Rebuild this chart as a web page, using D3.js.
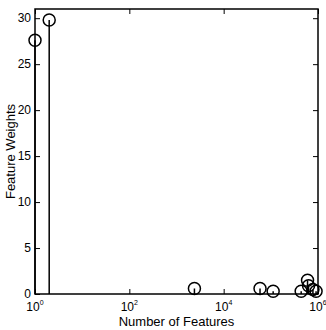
<!DOCTYPE html>
<html><head><meta charset="utf-8">
<script src="https://cdn.jsdelivr.net/npm/d3@7"></script>
<style>body{margin:0;background:#fff}svg{display:block}text{font-family:"Liberation Sans",Arial,sans-serif}</style>
</head><body>
<script>
const features = [1, 2, 2400, 59000, 112000, 440000, 600000, 630000, 780000, 910000];
const weights  = [27.6, 29.8, 0.6, 0.6, 0.3, 0.3, 1.5, 0.9, 0.5, 0.3];
const xTickExps = [0, 2, 4, 6];
const yTicks = [0, 5, 10, 15, 20, 25, 30];

const W = 326, H = 330;
const m = {l: 35, r: 8, t: 9, b: 36};
const svg = d3.select("body").append("svg").attr("width", W).attr("height", H);
const x = d3.scaleLog().domain([1, 1e6]).range([m.l, W - m.r]);
const y = d3.scaleLinear().domain([0, 31]).range([H - m.b, m.t]);

const g = svg.append("g");
g.selectAll("line.stem").data(features).join("line")
  .attr("x1", d => x(d)).attr("x2", d => x(d))
  .attr("y1", y(0)).attr("y2", (d, i) => y(weights[i]))
  .attr("stroke", "#000").attr("stroke-width", 1.5);
g.append("rect").attr("x", m.l).attr("y", m.t)
  .attr("width", W - m.r - m.l).attr("height", H - m.b - m.t)
  .attr("fill", "none").attr("stroke", "#000").attr("stroke-width", 1.5);
g.selectAll("circle").data(features).join("circle")
  .attr("cx", d => x(d)).attr("cy", (d, i) => y(weights[i])).attr("r", 6)
  .attr("fill", "none").attr("stroke", "#000").attr("stroke-width", 1.5);

const yAx = svg.append("g").attr("transform", `translate(${m.l},0)`)
  .call(d3.axisRight(y).tickValues(yTicks).tickSize(5).tickFormat(""));
yAx.select(".domain").remove();
const yAxR = svg.append("g").attr("transform", `translate(${W - m.r},0)`)
  .call(d3.axisLeft(y).tickValues(yTicks).tickSize(5).tickFormat(""));
yAxR.select(".domain").remove();
svg.append("g").selectAll("text").data(yTicks).join("text")
  .attr("x", m.l - 4).attr("y", d => y(d)).attr("dy", "0.35em")
  .attr("text-anchor", "end").attr("font-size", 12).text(d => d);

const xtv = xTickExps.map(e => Math.pow(10, e));
const xAx = svg.append("g").attr("transform", `translate(0,${H - m.b})`)
  .call(d3.axisTop(x).tickValues(xtv).tickSize(5).tickFormat(""));
xAx.select(".domain").remove();
const xAxT = svg.append("g").attr("transform", `translate(0,${m.t})`)
  .call(d3.axisBottom(x).tickValues(xtv).tickSize(5).tickFormat(""));
xAxT.select(".domain").remove();
svg.selectAll(".tick line").attr("stroke", "#000");
const xl = svg.append("g").selectAll("text").data(xTickExps).join("text")
  .attr("x", d => x(Math.pow(10, d))).attr("y", H - m.b + 17)
  .attr("text-anchor", "middle").attr("font-size", 12);
xl.append("tspan").text("10");
xl.append("tspan").attr("font-size", 7).attr("dy", -6).text(d => d);

svg.append("text").attr("x", (m.l + W - m.r) / 2).attr("y", H - 4)
  .attr("text-anchor", "middle").attr("font-size", 13).text("Number of Features");
svg.append("text").attr("transform", `translate(15,${(m.t + H - m.b) / 2}) rotate(-90)`)
  .attr("text-anchor", "middle").attr("font-size", 13).text("Feature Weights");
</script>
</body></html>
